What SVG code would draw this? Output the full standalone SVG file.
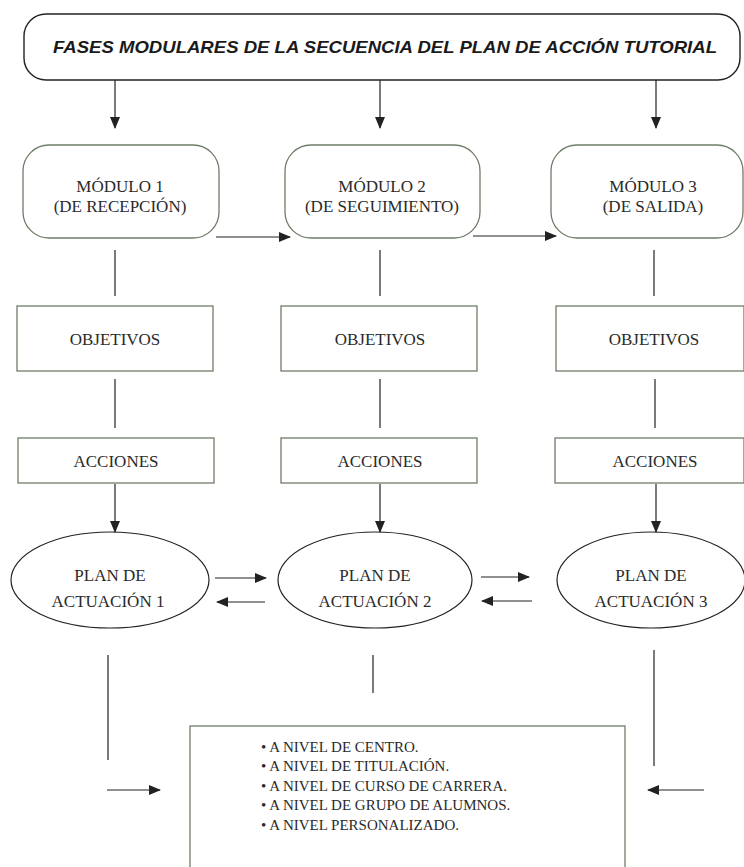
<svg xmlns="http://www.w3.org/2000/svg" width="744" height="867" viewBox="0 0 744 867">
<style>
.t{font-family:"Liberation Serif","Times New Roman",serif;font-size:17px;fill:#2a2a2a;text-anchor:middle}
.l{font-family:"Liberation Serif","Times New Roman",serif;font-size:15px;fill:#2a2a2a}
.box{fill:#fff;stroke:#6f7d69;stroke-width:1.3}
.ell{fill:#fff;stroke:#222;stroke-width:1.2}
.c{stroke:#222;stroke-width:1.2;fill:none}
</style>
<defs>
<marker id="ah" markerWidth="12" markerHeight="10" refX="11" refY="5" orient="auto" markerUnits="userSpaceOnUse">
<path d="M0,0 L12,5 L0,10 Z" fill="#222"/>
</marker>
</defs>
<rect width="744" height="867" fill="#fff"/>
<g id="title">
<rect x="24" y="14" width="716" height="66" rx="22" fill="#fff" stroke="#222" stroke-width="1.4"/>
<text x="385" y="53" font-family="'Liberation Sans',Arial,sans-serif" font-size="16.5" font-weight="bold" font-style="italic" fill="#1a1a1a" text-anchor="middle" textLength="664" lengthAdjust="spacingAndGlyphs">FASES MODULARES DE LA SECUENCIA DEL PLAN DE ACCIÓN TUTORIAL</text>
</g>
<g id="mod1"><rect class="box" x="23" y="145" width="196" height="93" rx="26"/><text class="t" x="120" y="192">MÓDULO 1</text><text class="t" x="120" y="212">(DE RECEPCIÓN)</text></g>
<g id="mod2"><rect class="box" x="285" y="145" width="195" height="93" rx="26"/><text class="t" x="382" y="192">MÓDULO 2</text><text class="t" x="382" y="212">(DE SEGUIMIENTO)</text></g>
<g id="mod3"><rect class="box" x="551" y="145" width="192" height="93" rx="26"/><text class="t" x="653" y="192">MÓDULO 3</text><text class="t" x="653" y="212">(DE SALIDA)</text></g>
<g id="obj1"><rect class="box" x="17" y="306" width="196" height="65"/><text class="t" x="115" y="345">OBJETIVOS</text></g>
<g id="obj2"><rect class="box" x="281" y="306" width="196" height="65"/><text class="t" x="380" y="345">OBJETIVOS</text></g>
<g id="obj3"><rect class="box" x="556" y="306" width="188" height="65"/><text class="t" x="654" y="345">OBJETIVOS</text></g>
<g id="acc1"><rect class="box" x="18" y="438" width="196" height="45"/><text class="t" x="116" y="467">ACCIONES</text></g>
<g id="acc2"><rect class="box" x="281" y="438" width="196" height="45"/><text class="t" x="380" y="467">ACCIONES</text></g>
<g id="acc3"><rect class="box" x="555" y="438" width="189" height="45"/><text class="t" x="655" y="467">ACCIONES</text></g>
<g id="plan1"><ellipse class="ell" cx="110" cy="580" rx="99" ry="48"/><text class="t" x="110" y="581">PLAN DE</text><text class="t" x="108" y="607">ACTUACIÓN 1</text></g>
<g id="plan2"><ellipse class="ell" cx="375" cy="580" rx="97" ry="48"/><text class="t" x="375" y="581">PLAN DE</text><text class="t" x="375" y="607">ACTUACIÓN 2</text></g>
<g id="plan3"><ellipse class="ell" cx="651" cy="580" rx="94" ry="48"/><text class="t" x="651" y="581">PLAN DE</text><text class="t" x="651" y="607">ACTUACIÓN 3</text></g>
<g id="niveles">
<rect class="box" x="190" y="726" width="435" height="150"/>
<text class="l" x="261" y="752">•  A NIVEL DE CENTRO.</text>
<text class="l" x="261" y="771">•  A NIVEL DE TITULACIÓN.</text>
<text class="l" x="261" y="791">•  A NIVEL DE CURSO DE CARRERA.</text>
<text class="l" x="261" y="810">•  A NIVEL DE GRUPO DE ALUMNOS.</text>
<text class="l" x="261" y="830">•  A NIVEL PERSONALIZADO.</text>
</g>
<g id="connectors">
<line class="c" x1="115" y1="80" x2="115" y2="128" marker-end="url(#ah)"/>
<line class="c" x1="380" y1="80" x2="380" y2="128" marker-end="url(#ah)"/>
<line class="c" x1="656" y1="80" x2="656" y2="128" marker-end="url(#ah)"/>
<line class="c" x1="216" y1="237" x2="290" y2="237" marker-end="url(#ah)"/>
<line class="c" x1="473" y1="236" x2="556" y2="236" marker-end="url(#ah)"/>
<line class="c" x1="115" y1="250" x2="115" y2="296"/>
<line class="c" x1="380" y1="250" x2="380" y2="296"/>
<line class="c" x1="654" y1="250" x2="654" y2="296"/>
<line class="c" x1="115" y1="379" x2="115" y2="428"/>
<line class="c" x1="380" y1="379" x2="380" y2="428"/>
<line class="c" x1="655" y1="379" x2="655" y2="428"/>
<line class="c" x1="115" y1="484" x2="115" y2="532" marker-end="url(#ah)"/>
<line class="c" x1="380" y1="484" x2="380" y2="532" marker-end="url(#ah)"/>
<line class="c" x1="656" y1="484" x2="656" y2="532" marker-end="url(#ah)"/>
<line class="c" x1="215" y1="578" x2="266" y2="578" marker-end="url(#ah)"/>
<line class="c" x1="265" y1="602" x2="217" y2="602" marker-end="url(#ah)"/>
<line class="c" x1="481" y1="577" x2="529" y2="577" marker-end="url(#ah)"/>
<line class="c" x1="532" y1="601" x2="482" y2="601" marker-end="url(#ah)"/>
<line class="c" x1="108" y1="655" x2="108" y2="760"/>
<line class="c" x1="373" y1="655" x2="373" y2="693"/>
<line class="c" x1="654" y1="650" x2="654" y2="766"/>
<line class="c" x1="107" y1="790" x2="160" y2="790" marker-end="url(#ah)"/>
<line class="c" x1="704" y1="790" x2="648" y2="790" marker-end="url(#ah)"/>
</g>
</svg>
